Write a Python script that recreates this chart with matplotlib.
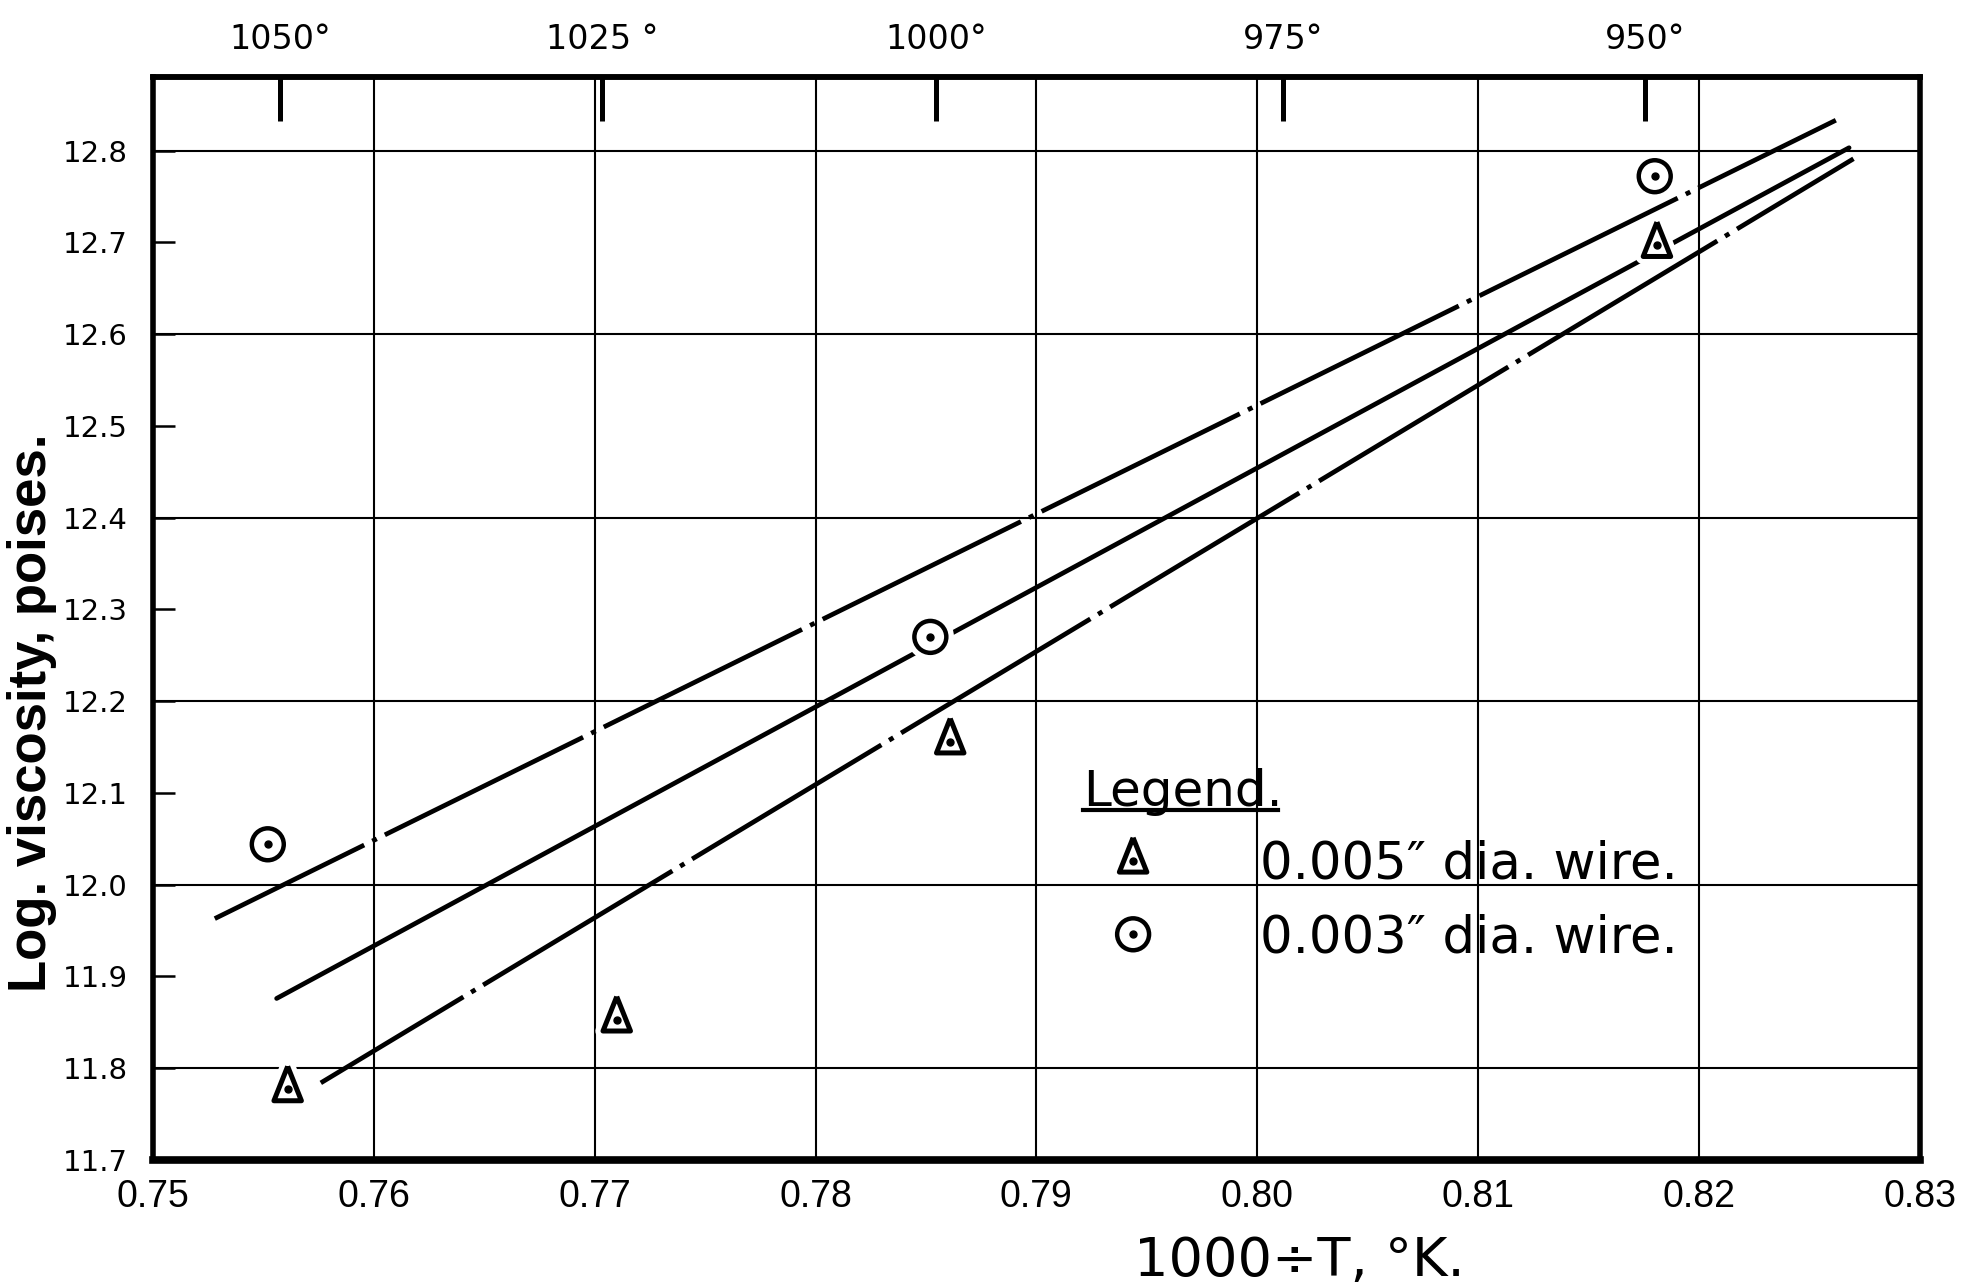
import matplotlib
matplotlib.use("Agg")
import numpy as np
import matplotlib.pyplot as plt
import matplotlib.patheffects as pe
from matplotlib.lines import Line2D

# measured points (1000/T, log viscosity)
wire005_x = [0.7561, 0.7710, 0.7861, 0.8181]
wire005_y = [11.777, 11.853, 12.156, 12.697]
wire003_x = [0.7552, 0.7852, 0.8180]
wire003_y = [12.044, 12.270, 12.772]

# drawn lines, end points
upper_x = [0.7528, 0.8262]
upper_y = [11.963, 12.833]
middle_x = [0.7556, 0.8268]
middle_y = [11.876, 12.803]
lower_x = [0.7576, 0.8270]
lower_y = [11.784, 12.791]

x_ticks = [0.75, 0.76, 0.77, 0.78, 0.79, 0.80, 0.81, 0.82, 0.83]
x_labels = ["0.75", "0.76", "0.77", "0.78", "0.79", "0.80", "0.81", "0.82", "0.83"]
y_ticks = [11.7, 11.8, 11.9, 12.0, 12.1, 12.2, 12.3, 12.4, 12.5, 12.6, 12.7, 12.8]
y_labels = ["11.7", "11.8", "11.9", "12.0", "12.1", "12.2", "12.3", "12.4",
            "12.5", "12.6", "12.7", "12.8"]
y_grid = [11.8, 12.0, 12.2, 12.4, 12.6, 12.8]
temp_ticks = [1050, 1025, 1000, 975, 950]
temp_labels = ["1050°", "1025 °", "1000°", "975°", "950°"]
legend_labels = ["0.005\u2033 dia. wire.", "0.003\u2033 dia. wire."]

plt.rcParams['font.family'] = ['DejaVu Sans']
plt.rcParams['lines.scale_dashes'] = False

fig = plt.figure(figsize=(19.71, 12.85), dpi=100)
ax = fig.add_axes([0.0776, 0.0973, 0.8964, 0.8427])

dash_dot = (39.2, (159.1, 6.5, 3.6, 6.5))
ax.plot(upper_x, upper_y, color='black', lw=3.4, linestyle=dash_dot, zorder=3)
ax.plot(middle_x, middle_y, color='black', lw=3.4, solid_capstyle='round', zorder=3)
ax.plot(lower_x, lower_y, color='black', lw=3.4, linestyle=dash_dot, zorder=3)

# narrow triangle, centroid at the data point
tri_marker = [(0, 0.667), (-0.4, -0.333), (0.4, -0.333), (0, 0.667)]
halo = [pe.withStroke(linewidth=11, foreground='white')]
tri, = ax.plot(wire005_x, wire005_y, ls='none', marker=tri_marker, ms=33,
               mfc='white', mec='black', mew=3.6, zorder=5, path_effects=halo)
tri_dot, = ax.plot(wire005_x, wire005_y, ls='none', marker='o', ms=5,
                   color='black', zorder=6)
circ, = ax.plot(wire003_x, wire003_y, ls='none', marker='o', ms=23,
                mfc='white', mec='black', mew=3.2, zorder=5, path_effects=halo)
circ_dot, = ax.plot(wire003_x, wire003_y, ls='none', marker='o', ms=5,
                    color='black', zorder=6)

ax.set_xlim(0.75, 0.83)
ax.set_ylim(11.7, 12.88)
ax.set_xticks(x_ticks, x_labels)
major = [(t, l) for t, l in zip(y_ticks, y_labels) if round(t, 1) in y_grid]
minor = [(t, l) for t, l in zip(y_ticks, y_labels) if round(t, 1) not in y_grid]
ax.set_yticks([t for t, _ in major], [l for _, l in major])
ax.set_yticks([t for t, _ in minor], [l for _, l in minor], minor=True)
ax.tick_params(axis='y', which='both', direction='in', length=16, width=1.8,
               pad=18, labelsize=21)
ax.tick_params(axis='x', which='major', direction='in', length=0, pad=14)
for lbl in ax.get_xticklabels():
  lbl.set_fontfamily(['Liberation Sans', 'DejaVu Sans'])
  lbl.set_fontsize(27)
ax.grid(axis='x', which='major', color='black', lw=1.5)
ax.grid(axis='y', which='major', color='black', lw=1.5)
ax.set_axisbelow(True)
for side in ['left', 'right', 'top']:
  ax.spines[side].set_linewidth(4)
ax.spines['bottom'].set_linewidth(5.5)


def inv_to_c(x):
  x = np.asarray(x, dtype=float)
  with np.errstate(divide='ignore', invalid='ignore'):
    return 1000.0 / x - 273.15


def c_to_inv(c):
  c = np.asarray(c, dtype=float)
  with np.errstate(divide='ignore', invalid='ignore'):
    return 1000.0 / (c + 273.15)


sec = ax.secondary_xaxis('top', functions=(inv_to_c, c_to_inv))
sec.set_xticks(temp_ticks, temp_labels)
sec.tick_params(direction='in', length=32, width=3.6, pad=15, labelsize=24)
sec.spines['top'].set_linewidth(4)

ax.set_xlabel("1000\u00f7T, \u00b0K.", fontsize=39, va='center')
ax.xaxis.set_label_coords(0.6486, -0.093)
ax.set_ylabel("Log. viscosity, poises.", va='center', fontsize=38, fontweight='bold',
              family=['Liberation Sans', 'DejaVu Sans'])
ax.yaxis.set_label_coords(-0.0685, 0.413)

leg = ax.legend([(tri, tri_dot), (circ, circ_dot)], legend_labels,
                title="Legend.", alignment='left', loc='upper left',
                bbox_to_anchor=(1083 / 1971, 1 - 768 / 1285), bbox_transform=fig.transFigure,
                frameon=False, fontsize=37, title_fontsize=36, borderpad=0,
                borderaxespad=0, handlelength=1.95, handletextpad=1.5,
                labelspacing=0.46, markerscale=1)

# underline the legend title
fig.canvas.draw()
bb = leg.get_title().get_window_extent(fig.canvas.get_renderer())
inv = fig.transFigure.inverted()
(x0, y0), (x1, _) = inv.transform([(bb.x0, bb.y0 + 0.12 * bb.height), (bb.x1 - 4, bb.y0)])
fig.add_artist(Line2D([x0, x1], [y0, y0], color='black', lw=3))

fig.savefig("out.png", dpi=100)
